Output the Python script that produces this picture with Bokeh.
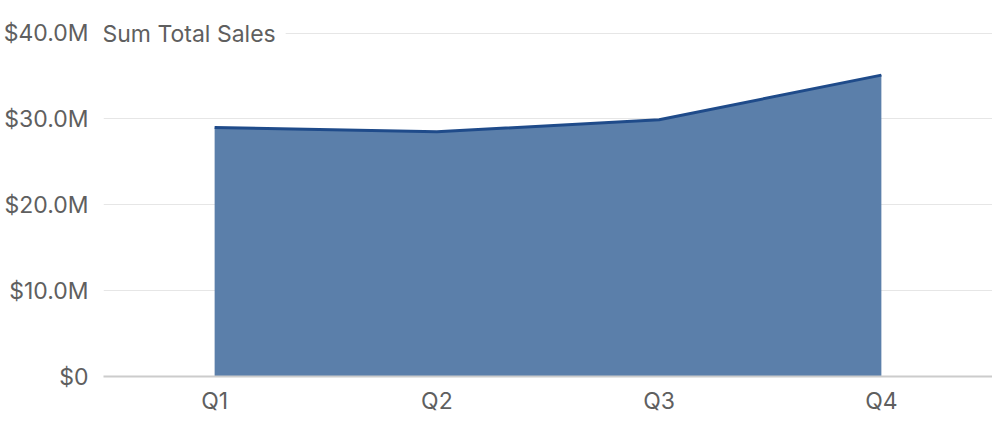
from bokeh.plotting import figure
from bokeh.models import Range1d, FactorRange, FixedTicker, Label
from bokeh.embed import file_html
from bokeh.resources import INLINE

quarters = ["Q1", "Q2", "Q3", "Q4"]
sales = [29.0e6, 28.5e6, 29.9e6, 35.1e6]
y_ticks = [0, 10e6, 20e6, 30e6, 40e6]
y_tick_labels = ["$0", "$10.0M", "$20.0M", "$30.0M", "$40.0M"]
title_text = "Sum Total Sales"
y_max = 41.46e6

FONT = "Inter"
TEXT_COLOR = "#5f5f5f"

p = figure(width=992, height=418, output_backend="svg", toolbar_location=None,
           x_range=FactorRange(*quarters, range_padding=0),
           y_range=Range1d(0, y_max),
           min_border_left=98, min_border_right=0, min_border_top=20, min_border_bottom=42)
p.outline_line_color = None
p.background_fill_color = "white"
p.border_fill_color = "white"

p.varea(x=quarters, y1=[0] * len(quarters), y2=sales, fill_color="#5b7faa", fill_alpha=1.0)
p.line(x=quarters, y=sales, line_color="#1f4b8a", line_width=3)

p.xgrid.grid_line_color = None
p.ygrid.grid_line_color = "#e6e6e6"
p.ygrid.grid_line_width = 1
p.ygrid.ticker = FixedTicker(ticks=y_ticks)

p.yaxis.ticker = FixedTicker(ticks=y_ticks)
p.yaxis.major_label_overrides = {t: l for t, l in zip(y_ticks, y_tick_labels)}
p.yaxis.axis_line_color = None
p.yaxis.major_tick_line_color = None
p.yaxis.minor_tick_line_color = None
p.yaxis.major_label_standoff = 9
p.yaxis.major_label_text_font = FONT
p.yaxis.major_label_text_font_size = "23px"
p.yaxis.major_label_text_color = TEXT_COLOR

p.xaxis.axis_line_color = "#cccccc"
p.xaxis.axis_line_width = 2
p.xaxis.major_tick_line_color = None
p.xaxis.minor_tick_line_color = None
p.xaxis.major_label_standoff = 4
p.xaxis.major_label_text_font = FONT
p.xaxis.major_label_text_font_size = "23px"
p.xaxis.major_label_text_color = TEXT_COLOR

title = Label(x=0, y=y_ticks[-1], text=title_text, text_font=FONT, text_font_size="23px",
              text_color=TEXT_COLOR, text_baseline="middle", text_align="left", x_offset=-3,
              background_fill_color="white", padding=(2, 10, 2, 0))
p.add_layout(title)

open("out.html", "w").write(file_html(p, INLINE))
